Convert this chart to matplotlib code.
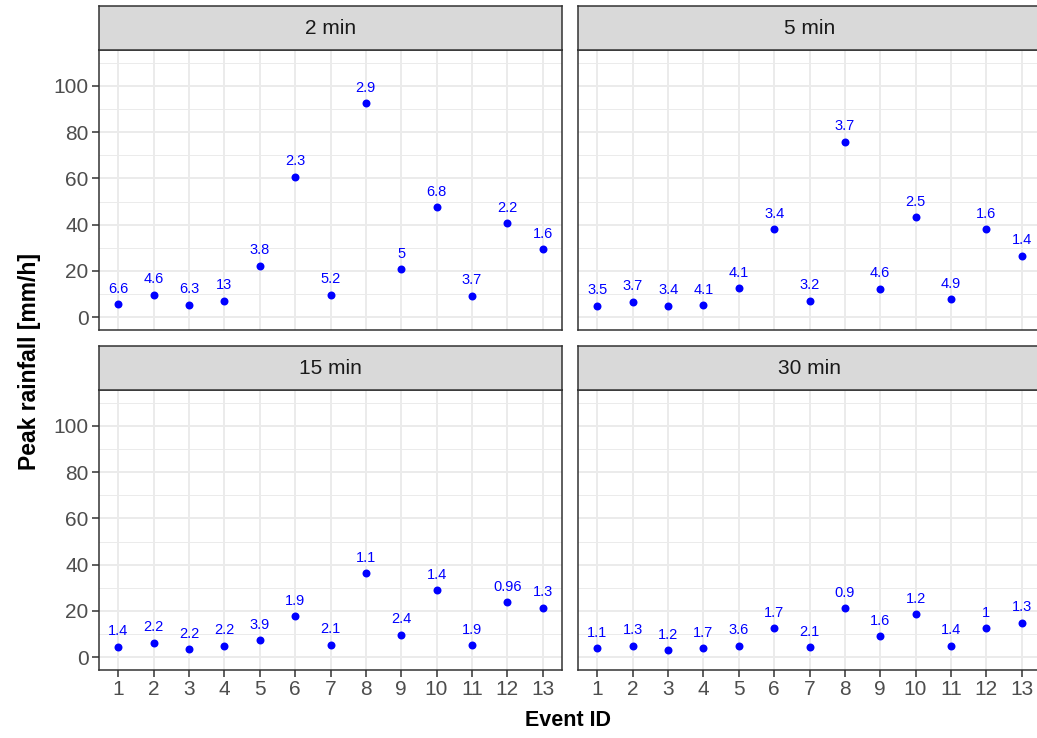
import numpy as np
import matplotlib.pyplot as plt

plt.rcParams["font.family"] = ["Liberation Sans", "DejaVu Sans"]

W, H = 1037, 738

events = list(range(1, 14))
panels = ["2 min", "5 min", "15 min", "30 min"]

peak_2 = [5.6, 9.7, 5.5, 7.1, 22.2, 60.7, 9.7, 92.5, 20.8, 47.5, 9.4, 40.7, 29.4]
peak_5 = [4.9, 6.8, 5.0, 5.2, 12.6, 38.1, 7.1, 75.9, 12.4, 43.3, 7.8, 38.1, 26.5]
peak_15 = [4.5, 6.2, 3.5, 5.0, 7.4, 17.7, 5.5, 36.4, 9.8, 28.9, 5.2, 23.8, 21.3]
peak_30 = [3.9, 5.0, 3.0, 4.0, 4.9, 12.6, 4.3, 21.2, 9.0, 18.6, 4.9, 12.6, 15.0]

lab_2 = ["6.6", "4.6", "6.3", "13", "3.8", "2.3", "5.2", "2.9", "5", "6.8", "3.7", "2.2", "1.6"]
lab_5 = ["3.5", "3.7", "3.4", "4.1", "4.1", "3.4", "3.2", "3.7", "4.6", "2.5", "4.9", "1.6", "1.4"]
lab_15 = ["1.4", "2.2", "2.2", "2.2", "3.9", "1.9", "2.1", "1.1", "2.4", "1.4", "1.9", "0.96", "1.3"]
lab_30 = ["1.1", "1.3", "1.2", "1.7", "3.6", "1.7", "2.1", "0.9", "1.6", "1.2", "1.4", "1", "1.3"]

values = [peak_2, peak_5, peak_15, peak_30]
labels = [lab_2, lab_5, lab_15, lab_30]

# pixel boxes of the panels; right column runs past the image edge (cropped)
cols = [(99, 562), (578, 1041)]
rows = [(50, 330), (390, 670)]
strip_h = 44

fig = plt.figure(figsize=(W / 100, H / 100), dpi=100)

def box(l, r, t, b):
    return [l / W, 1 - b / H, (r - l) / W, (b - t) / H]

for i, name in enumerate(panels):
    ri, ci = divmod(i, 2)
    l, r = cols[ci]
    t, b = rows[ri]
    ax = fig.add_axes(box(l, r, t, b))
    ax.set_xlim(0.45, 13.55)
    ax.set_ylim(-5.5, 115.5)
    ax.set_xticks(events)
    ax.set_yticks([0, 20, 40, 60, 80, 100])
    ax.set_yticks(np.arange(10, 120, 20), minor=True)
    ax.grid(True, which="major", color="#EBEBEB", linewidth=1.4)
    ax.grid(True, which="minor", axis="y", color="#EBEBEB", linewidth=0.7)
    ax.set_axisbelow(True)
    for sp in ax.spines.values():
        sp.set_color("#333333")
        sp.set_linewidth(1.1)
    ax.tick_params(which="minor", length=0)
    ax.tick_params(which="major", color="#333333", length=5, width=1.1,
                   labelsize=15, labelcolor="#4D4D4D", pad=2.5)
    if ci != 0:
        ax.tick_params(axis="y", left=False, labelleft=False)
    if ri != 1:
        ax.tick_params(axis="x", bottom=False, labelbottom=False)

    ax.scatter(events, values[i], s=33, color="#0000FF", zorder=3, linewidths=0)
    for x, y, s in zip(events, values[i], labels[i]):
        ax.text(x, y + 6.7, s, color="#0000FF", fontsize=10.5,
                ha="center", va="center")

    # facet strip
    sax = fig.add_axes(box(l, r, t - strip_h, t))
    sax.set_xticks([])
    sax.set_yticks([])
    sax.set_facecolor("#D9D9D9")
    for sp in sax.spines.values():
        sp.set_color("#333333")
        sp.set_linewidth(1.1)
    sax.text(0.5, 0.5, name, transform=sax.transAxes, ha="center",
             va="center", fontsize=15, color="#1A1A1A")

fig.text(30 / W, 1 - 362 / H, "Peak rainfall [mm/h]", rotation=90,
         ha="center", va="center", fontsize=16.5, fontweight="bold")
fig.text(568 / W, 1 - 720 / H, "Event ID", ha="center", va="center",
         fontsize=15.5, fontweight="bold")

fig.savefig("out.png", dpi=100, facecolor="white")
